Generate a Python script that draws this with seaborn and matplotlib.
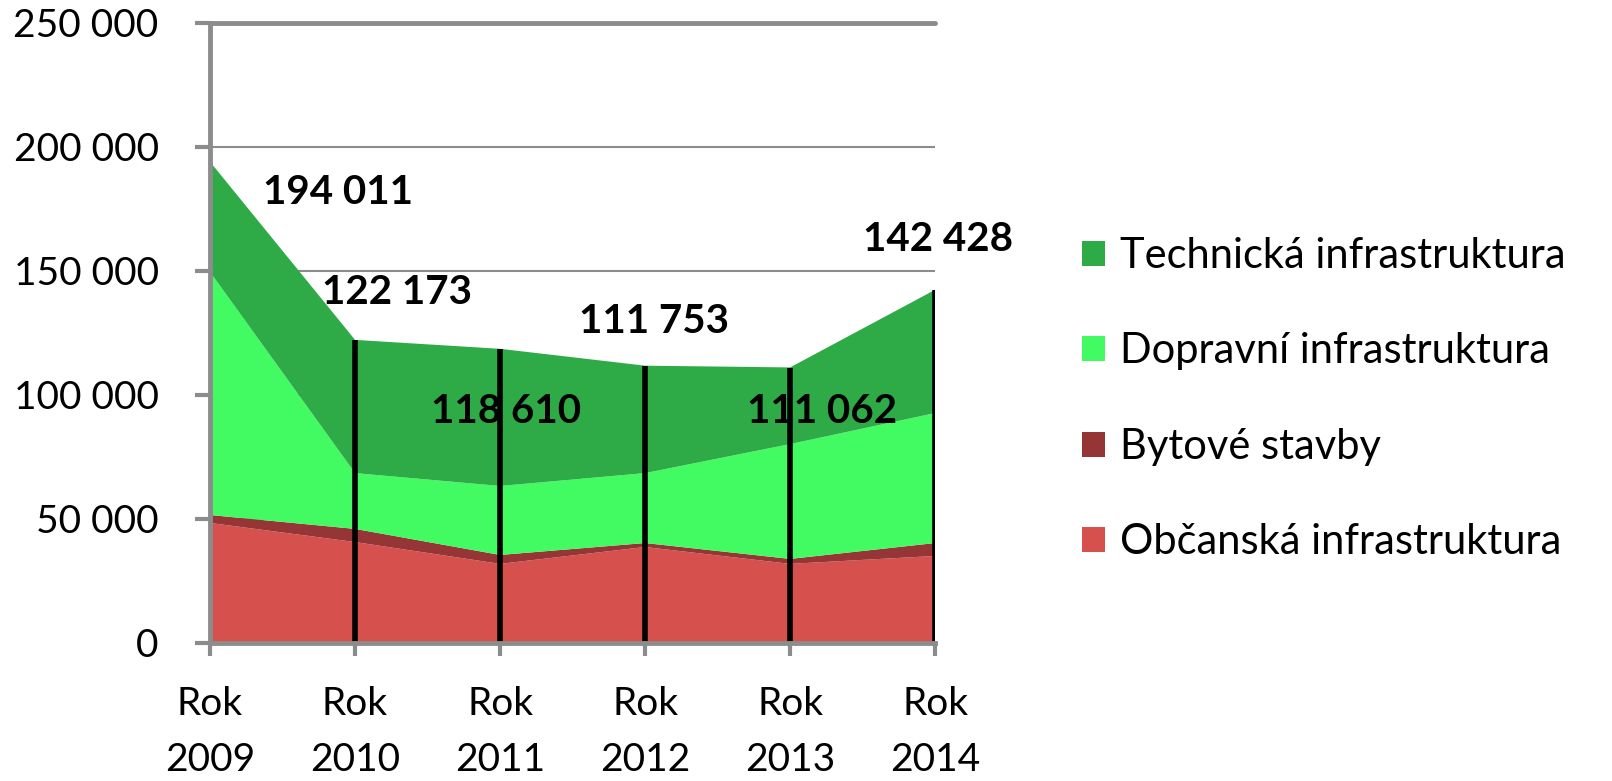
import numpy as np
import matplotlib
matplotlib.use("Agg")
import matplotlib.pyplot as plt
from matplotlib.patches import Patch
import seaborn as sns

sns.set_style("white")
plt.rcParams["font.family"] = ["Lato", "DejaVu Sans"]
plt.rcParams["text.color"] = "black"
plt.rcParams["xtick.color"] = "black"
plt.rcParams["ytick.color"] = "black"

years = ["Rok\n2009", "Rok\n2010", "Rok\n2011", "Rok\n2012", "Rok\n2013", "Rok\n2014"]
obcanska = [48400, 40700, 31900, 38700, 31900, 35100]
bytove = [3200, 5300, 3600, 1600, 2000, 5200]
dopravni = [98000, 22500, 27800, 28200, 46300, 52400]
technicka = [44400, 53700, 55300, 43300, 30900, 49700]
totals = [194011, 122173, 118610, 111753, 111062, 142428]

series_names = ["Občanská infrastruktura", "Bytové stavby", "Dopravní infrastruktura", "Technická infrastruktura"]
colors = ["#D6504E", "#963535", "#42FA62", "#2EAA46"]

# label offsets in pixels (dx, dy) from the top of each stack
label_offsets = [(128, -31), (42, 47), (6, -63), (9, 44), (32, -44), (3, 50)]

fig = plt.figure(figsize=(16.12, 7.81), dpi=100)
ax = fig.add_axes([0.1303, 0.1767, 0.4498, 0.794])

x = np.arange(len(years))
ax.stackplot(x, obcanska, bytove, dopravni, technicka, colors=colors, linewidth=0, edgecolor="none", zorder=2)

ax.vlines(x[1:], 0, totals[1:], color="black", lw=4, zorder=3)

for xi, t, (dx, dy) in zip(x, totals, label_offsets):
    ax.annotate(f"{t:,}".replace(",", " "), (xi, t), xytext=(dx, dy), textcoords="offset pixels",
                ha="center", va="center", fontsize=29, fontweight="bold", zorder=4)

ax.set_xlim(0, 5)
ax.set_ylim(0, 250000)
ax.set_yticks(np.arange(0, 250001, 50000))
ax.set_yticklabels([f"{v:,}".replace(",", " ") for v in np.arange(0, 250001, 50000)])
ax.set_xticks(x)
ax.set_xticklabels(years, linespacing=1.7)
ax.yaxis.grid(True, color="#8c8c8c", lw=1.5, zorder=0)
ax.set_axisbelow(True)

for s in ["top", "right"]:
    ax.spines[s].set_visible(False)
for s in ["left", "bottom"]:
    ax.spines[s].set_color("#8c8c8c")
    ax.spines[s].set_linewidth(3.5)
    ax.spines[s].set_zorder(5)
ax.axhline(250000, color="#8c8c8c", lw=3.5, clip_on=False, zorder=1)

ax.tick_params(axis="y", direction="out", length=11, width=3, color="#8c8c8c", pad=26, labelsize=28, left=True)
ax.tick_params(axis="x", direction="out", length=9, width=3, color="#8c8c8c", pad=22, labelsize=28, bottom=True)

handles = [Patch(facecolor=c, edgecolor="none") for c in colors]
fig.legend(handles[::-1], series_names[::-1], loc="upper left", bbox_to_anchor=(0.661, 0.718),
           frameon=False, fontsize=30, handlelength=0.55, handleheight=0.55,
           handletextpad=0.35, labelspacing=1.38, borderaxespad=0)

fig.savefig("out.png", dpi=100)
